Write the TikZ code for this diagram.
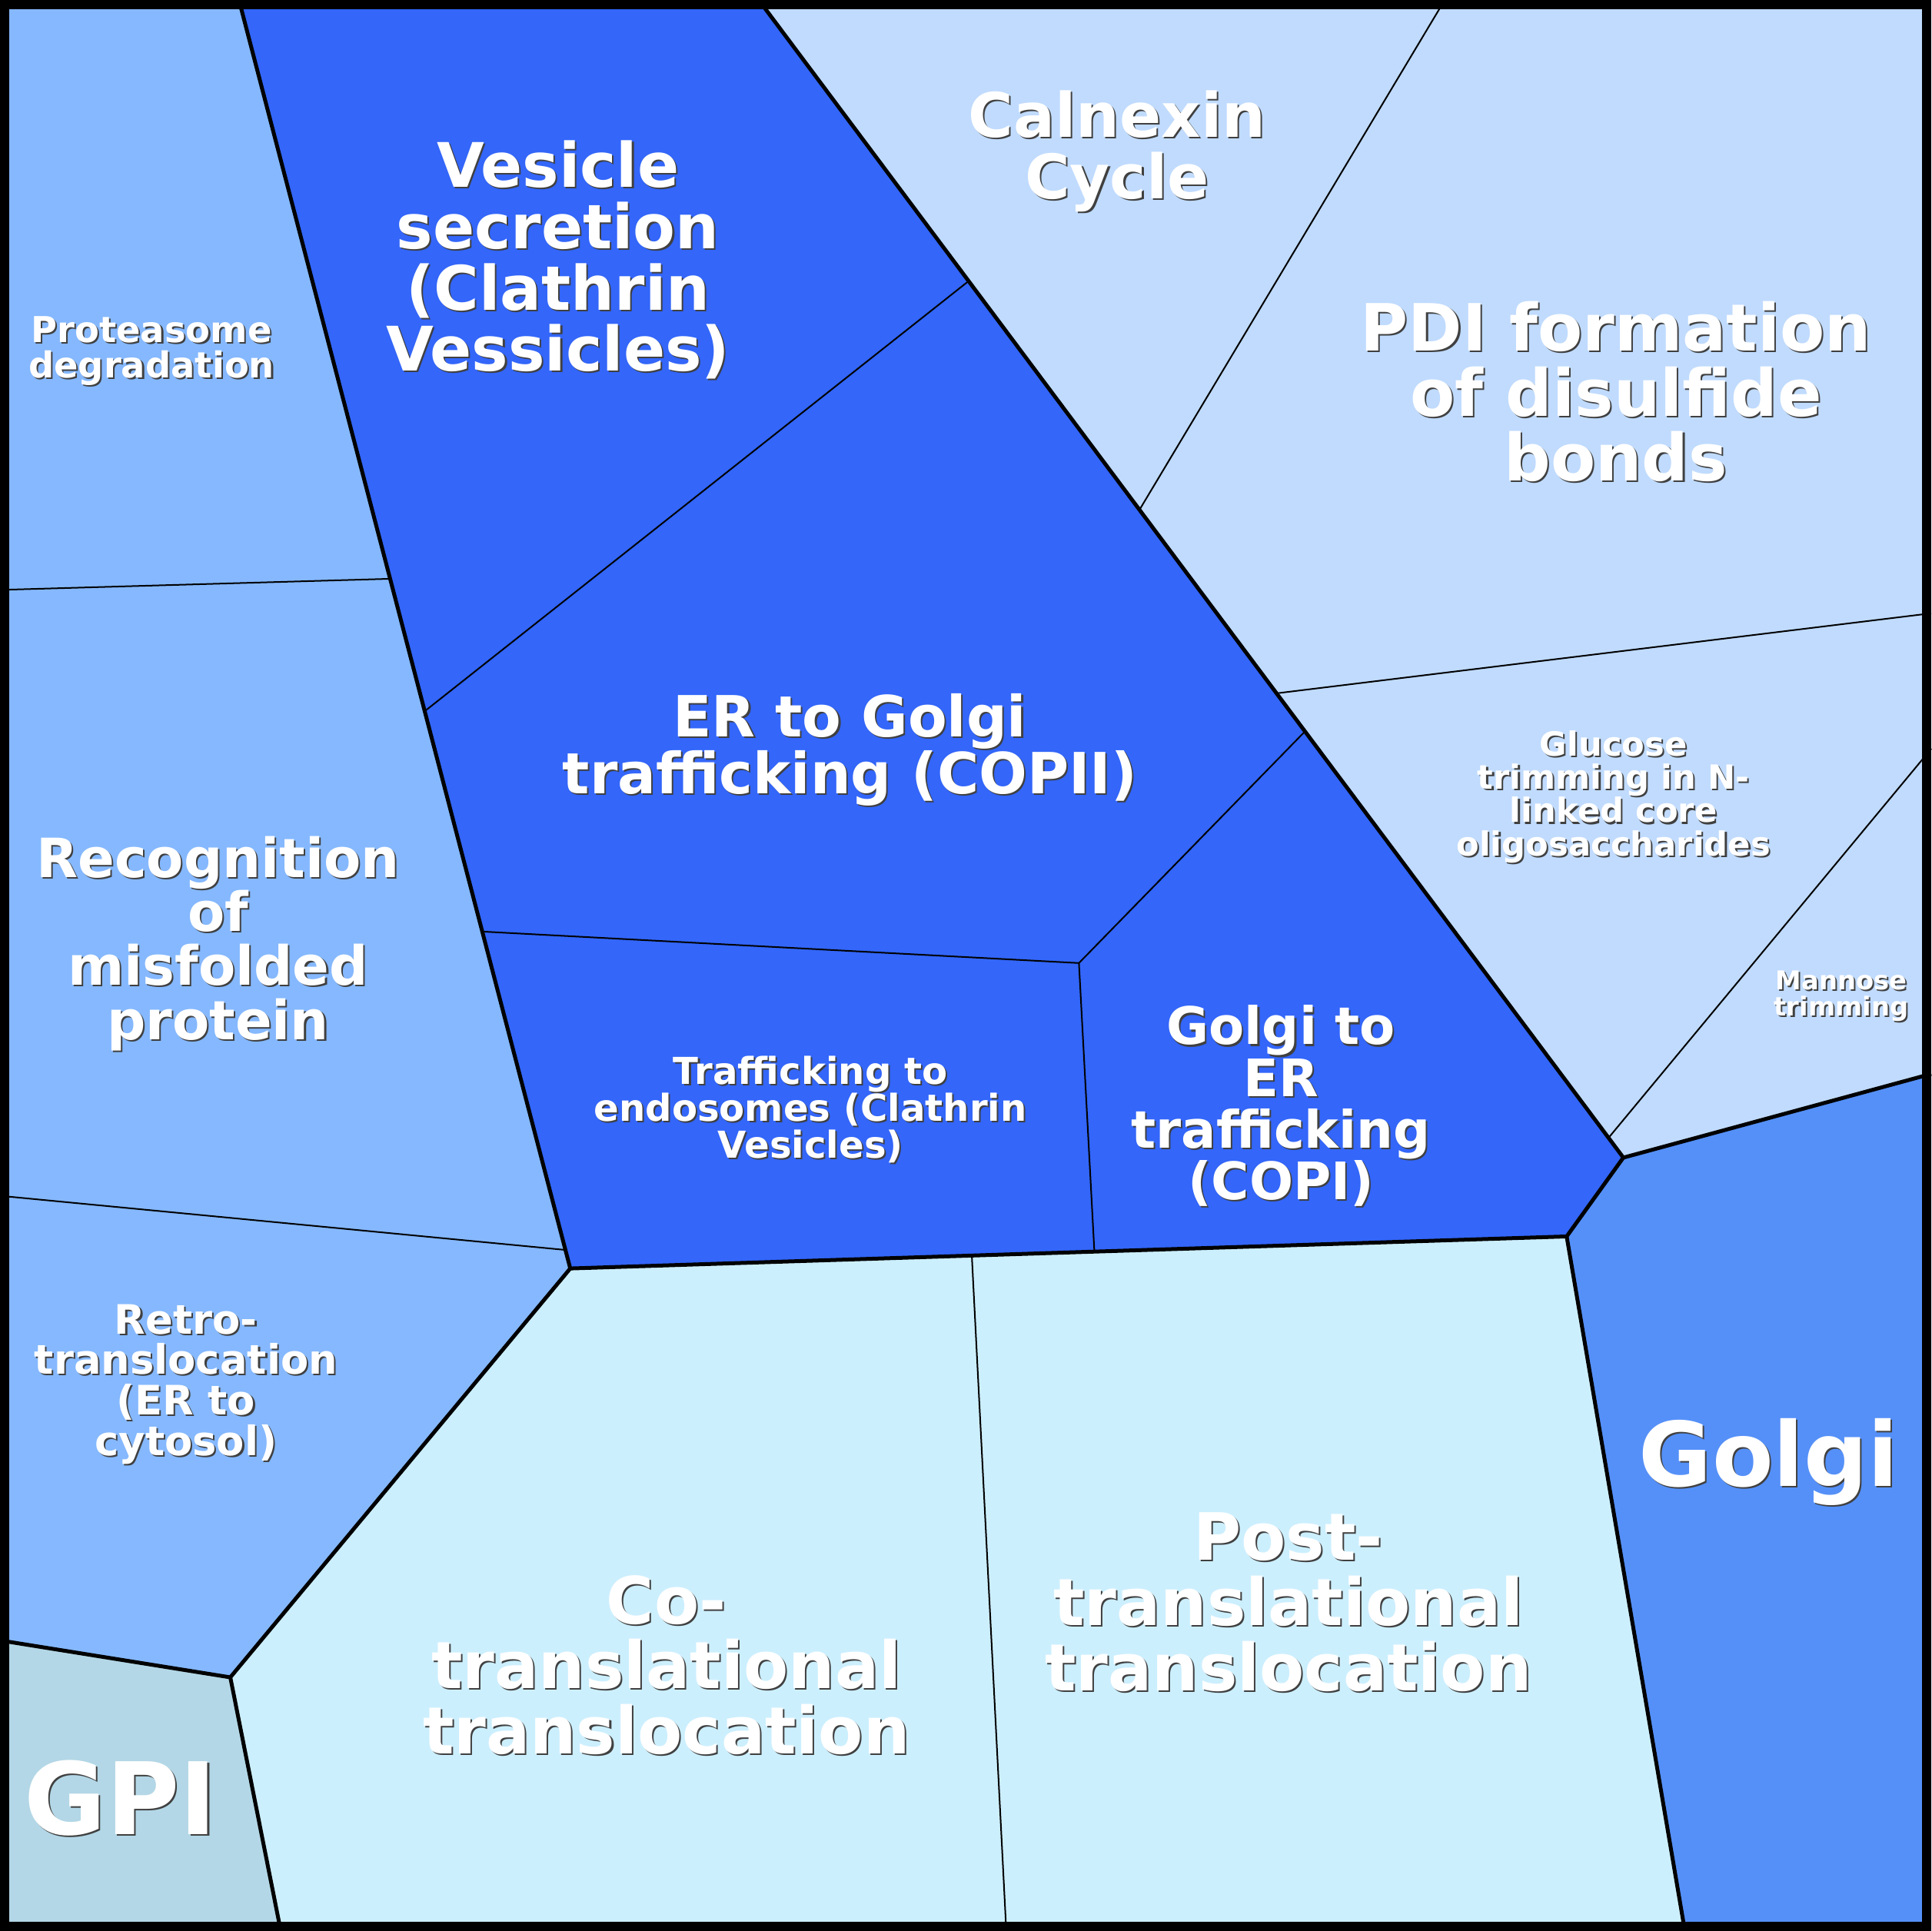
\documentclass[tikz,border=0pt]{standalone}
\usepackage{fontspec}
\setsansfont{DejaVu Sans}
\usepackage{xcolor}
\usepackage{tikz}
\usetikzlibrary{calc}
\definecolor{erdark}{HTML}{3366F9}
\definecolor{erleft}{HTML}{85B8FE}
\definecolor{erfold}{HTML}{C0DBFE}
\definecolor{golgi}{HTML}{5590F8}
\definecolor{transl}{HTML}{CCEFFE}
\definecolor{gpi}{HTML}{B3D7E6}
\tikzset{
  cell/.style={draw=black,line width=0.05cm,line join=round},
  sub/.style={draw=black,line width=0.02cm},
  lbl/.style={text=white,align=center,inner sep=0pt},
  lblshadow/.style={lbl,text=black!75,xshift=0.6pt,yshift=-0.6pt},
}
\newcommand{\celllabel}[4]{%
  \node[lblshadow,font=\sffamily\bfseries\fontsize{#3}{#3}\selectfont] (#1s) at (#2) {#4};
  \node[lbl,font=\sffamily\bfseries\fontsize{#3}{#3}\selectfont] (#1) at (#2) {#4};}

\begin{document}
\begin{tikzpicture}[x=0.016cm,y=-0.016cm]
  \useasboundingbox (0,0) rectangle (1568,1568);
  % outer corners and top-level vertices
  \coordinate (tl) at (0,0);      \coordinate (tr) at (1568,0);
  \coordinate (br) at (1568,1568); \coordinate (bl) at (0,1568);
  \coordinate (a) at (194,0);     \coordinate (b) at (616,0);
  \coordinate (c) at (1318,940);  \coordinate (d) at (1272,1004);
  \coordinate (e) at (463,1030);  \coordinate (f) at (187,1362);
  \coordinate (g) at (0,1332);    \coordinate (h) at (1568,872);
  \coordinate (i) at (1368,1568); \coordinate (j) at (228,1568);
  % sub-cell vertices
  \coordinate (k1) at (0,479);    \coordinate (k2) at ($(a)!0.4563!(e)$);
  \coordinate (k3) at (0,971);    \coordinate (k4) at ($(a)!0.9854!(e)$);
  \coordinate (m1) at ($(a)!0.5607!(e)$); \coordinate (m2) at ($(b)!0.2428!(c)$);
  \coordinate (m3) at ($(a)!0.7344!(e)$); \coordinate (m4) at (876,782);
  \coordinate (m5) at ($(b)!0.6318!(c)$); \coordinate (m6) at ($(e)!0.5260!(d)$);
  \coordinate (n1) at ($(b)!0.4404!(c)$); \coordinate (n2) at (1173,0);
  \coordinate (n3) at ($(b)!0.5989!(c)$); \coordinate (n4) at (1568,498);
  \coordinate (n5) at ($(b)!0.9829!(c)$); \coordinate (n6) at (1568,608);
  \coordinate (p1) at ($(e)!0.4030!(d)$); \coordinate (p2) at (817,1568);

  % region fills
  \fill[erleft] (tl) -- (a) -- (e) -- (f) -- (g) -- cycle;
  \fill[erdark] (a) -- (b) -- (c) -- (d) -- (e) -- cycle;
  \fill[erfold] (b) -- (tr) -- (h) -- (c) -- cycle;
  \fill[golgi] (c) -- (h) -- (br) -- (i) -- (d) -- cycle;
  \fill[transl] (e) -- (d) -- (i) -- (j) -- (f) -- cycle;
  \fill[gpi] (g) -- (f) -- (j) -- (bl) -- cycle;

  % sub-cell borders
  \draw[sub] (k1) -- (k2);
  \draw[sub] (k3) -- (k4);
  \draw[sub] (m1) -- (m2);
  \draw[sub] (m3) -- (m4) -- (m5);
  \draw[sub] (m4) -- (m6);
  \draw[sub] (n1) -- (n2);
  \draw[sub] (n3) -- (n4);
  \draw[sub] (n5) -- (n6);
  \draw[sub] (p1) -- (p2);

  % top-level borders
  \draw[cell] (a) -- (e) -- (f) -- (g);
  \draw[cell] (b) -- (c) -- (d) -- (e);
  \draw[cell] (c) -- (h);
  \draw[cell] (d) -- (i);
  \draw[cell] (f) -- (j);
  \draw[line width=0.12cm] (3.75,3.75) rectangle (1564.25,1564.25);

  % labels
  \celllabel{vesicle}{453,211}{22.7}{Vesicle\\secretion\\(Clathrin\\Vessicles)}
  \celllabel{calnexin}{907,123}{22.7}{Calnexin\\Cycle}
  \celllabel{pdi}{1312,318}{24.1}{PDI formation\\of disulfide\\bonds}
  \celllabel{proteasome}{123,285}{13.2}{Proteasome\\degradation}
  \celllabel{recognition}{177,766}{20}{Recognition\\of\\misfolded\\protein}
  \celllabel{retro}{151,1124}{15}{Retro-\\translocation\\(ER to\\cytosol)}
  \celllabel{copii}{690,609}{21}{ER to Golgi\\trafficking (COPII)}
  \celllabel{endosomes}{658,901}{13.7}{Trafficking to\\endosomes (Clathrin\\Vesicles)}
  \celllabel{copi}{1040,898}{19.1}{Golgi to\\ER\\trafficking\\(COPI)}
  \celllabel{glucose}{1310,647}{12.3}{Glucose\\trimming in N-\\linked core\\oligosaccharides}
  \celllabel{mannose}{1495,809}{9.6}{Mannose\\trimming}
  \celllabel{golgilbl}{1436,1187}{33}{Golgi}
  \celllabel{gpilbl}{98,1460}{37}{GPI}
  \celllabel{cotrans}{541,1352}{24.1}{Co-\\translational\\translocation}
  \celllabel{posttrans}{1046,1301}{24.1}{Post-\\translational\\translocation}
\end{tikzpicture}
\end{document}
